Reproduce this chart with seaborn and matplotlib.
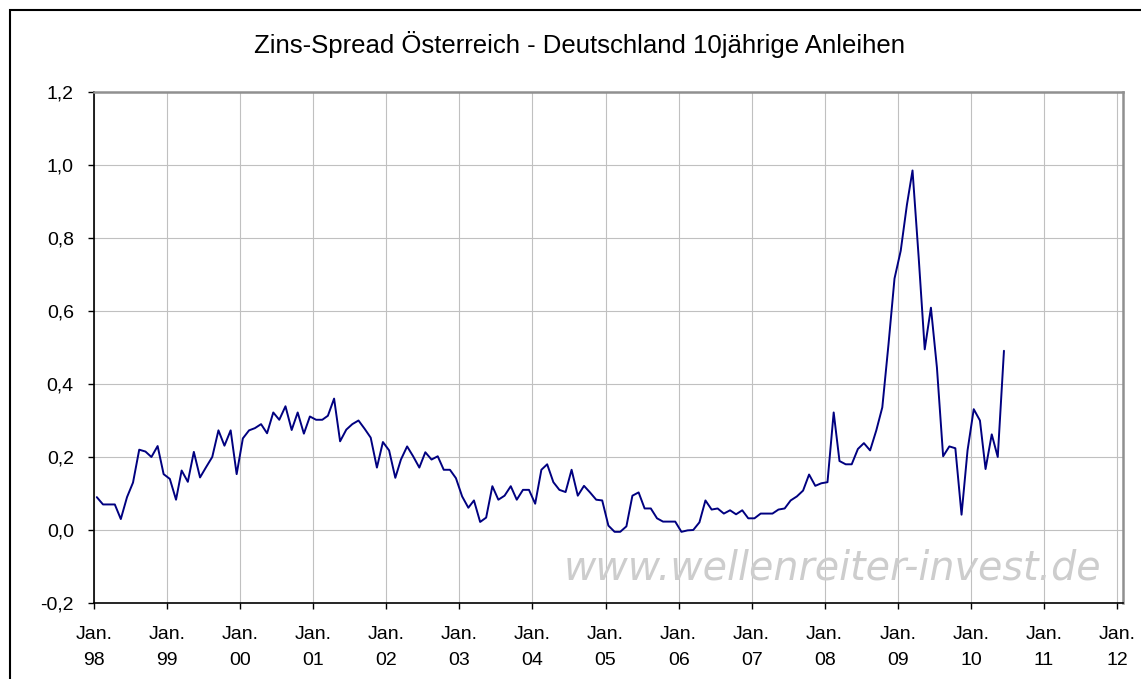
import pandas as pd
import numpy as np
import matplotlib
matplotlib.use('Agg')
import matplotlib.pyplot as plt
from matplotlib.patches import Rectangle
import seaborn as sns

# monthly spread AT - DE, 10y govt bonds, Jan 1998 .. Jun 2010
spread_1998 = [0.09, 0.07, 0.07, 0.07, 0.03, 0.09, 0.13, 0.22, 0.215, 0.20, 0.23, 0.153]
spread_1999 = [0.14, 0.083, 0.163, 0.132, 0.214, 0.144, 0.172, 0.20, 0.273, 0.231, 0.273, 0.153]
spread_2000 = [0.251, 0.273, 0.279, 0.29, 0.265, 0.322, 0.302, 0.339, 0.274, 0.322, 0.264, 0.311]
spread_2001 = [0.302, 0.302, 0.313, 0.36, 0.243, 0.275, 0.29, 0.30, 0.277, 0.253, 0.171, 0.241]
spread_2002 = [0.218, 0.143, 0.193, 0.229, 0.202, 0.171, 0.213, 0.193, 0.202, 0.165, 0.165, 0.142]
spread_2003 = [0.092, 0.061, 0.081, 0.022, 0.034, 0.12, 0.083, 0.094, 0.12, 0.083, 0.11, 0.11]
spread_2004 = [0.072, 0.165, 0.18, 0.131, 0.11, 0.104, 0.165, 0.094, 0.121, 0.103, 0.083, 0.081]
spread_2005 = [0.012, -0.005, -0.005, 0.01, 0.094, 0.103, 0.059, 0.059, 0.032, 0.023, 0.023, 0.023]
spread_2006 = [-0.005, -0.001, 0.0, 0.021, 0.081, 0.056, 0.059, 0.045, 0.054, 0.043, 0.054, 0.032]
spread_2007 = [0.032, 0.045, 0.045, 0.045, 0.056, 0.059, 0.081, 0.092, 0.108, 0.152, 0.121, 0.128]
spread_2008 = [0.131, 0.322, 0.189, 0.18, 0.18, 0.222, 0.238, 0.218, 0.273, 0.336, 0.509, 0.689]
spread_2009 = [0.765, 0.891, 0.985, 0.745, 0.495, 0.609, 0.445, 0.202, 0.229, 0.224, 0.042, 0.218]
spread_2010 = [0.331, 0.30, 0.167, 0.262, 0.20, 0.491]

spread = (spread_1998 + spread_1999 + spread_2000 + spread_2001 + spread_2002 + spread_2003
          + spread_2004 + spread_2005 + spread_2006 + spread_2007 + spread_2008 + spread_2009
          + spread_2010)
dates = pd.date_range('1998-01-01', periods=len(spread), freq='MS') + pd.Timedelta(days=14)
df = pd.DataFrame({'Datum': dates, 'Spread': spread})

y_ticks = [-0.2, 0.0, 0.2, 0.4, 0.6, 0.8, 1.0, 1.2]
year_ticks = pd.date_range('1998-01-01', '2012-01-01', freq='YS')
x_labels = ['Jan.\n' + d.strftime('%y') for d in year_ticks]

sns.set_style('white')
plt.rcParams['font.family'] = ['Liberation Sans', 'DejaVu Sans']

fig = plt.figure(figsize=(11.41, 6.79), dpi=100)
ax = fig.add_axes([94 / 1141, 1 - 603 / 679, (1123 - 94) / 1141, (603 - 92) / 679])

sns.lineplot(data=df, x='Datum', y='Spread', color='#000080', linewidth=1.4, ax=ax)

ax.set_xlim(pd.Timestamp('1998-01-01'), pd.Timestamp('2012-01-31'))
ax.set_ylim(-0.2, 1.2)
ax.set_yticks(y_ticks)
ax.set_yticklabels([f'{v:.1f}'.replace('.', ',') for v in y_ticks])
ax.set_xticks(year_ticks)
ax.set_xticklabels(x_labels, linespacing=1.7)
ax.set_xlabel('')
ax.set_ylabel('')

ax.grid(True, color='#c0c0c0', linewidth=0.8)
ax.set_axisbelow(True)
ax.tick_params(axis='both', which='major', direction='out', length=4.5, width=1,
               color='black', labelsize=14, labelcolor='black')
ax.tick_params(axis='x', pad=12)
ax.tick_params(axis='y', pad=10)
ax.tick_params(left=True, bottom=True)

for s in ['left', 'bottom']:
    ax.spines[s].set_color('black')
    ax.spines[s].set_linewidth(1.2)
for s in ['top', 'right']:
    ax.spines[s].set_color('#909090')
    ax.spines[s].set_linewidth(1.8)

fig.text(580 / 1141, 1 - 45 / 679, 'Zins-Spread Österreich - Deutschland 10jährige Anleihen',
         ha='center', va='center', fontsize=18.5, color='black')

ax.text((1101 - 94) / 1029, (603 - 579.5) / 511, 'www.wellenreiter-invest.de',
        transform=ax.transAxes, ha='right', va='baseline', fontsize=28.5,
        style='italic', color='#cdcdcd', family=['DejaVu Sans'], zorder=1)

# chart area frame (Excel style)
fig.add_artist(Rectangle((10 / 1141, -0.5), 2.0, 0.5 + 1 - 10 / 679,
                         transform=fig.transFigure, fill=False,
                         edgecolor='black', linewidth=1.5, clip_on=False))

plt.savefig('out.png', dpi=100)
plt.close()
